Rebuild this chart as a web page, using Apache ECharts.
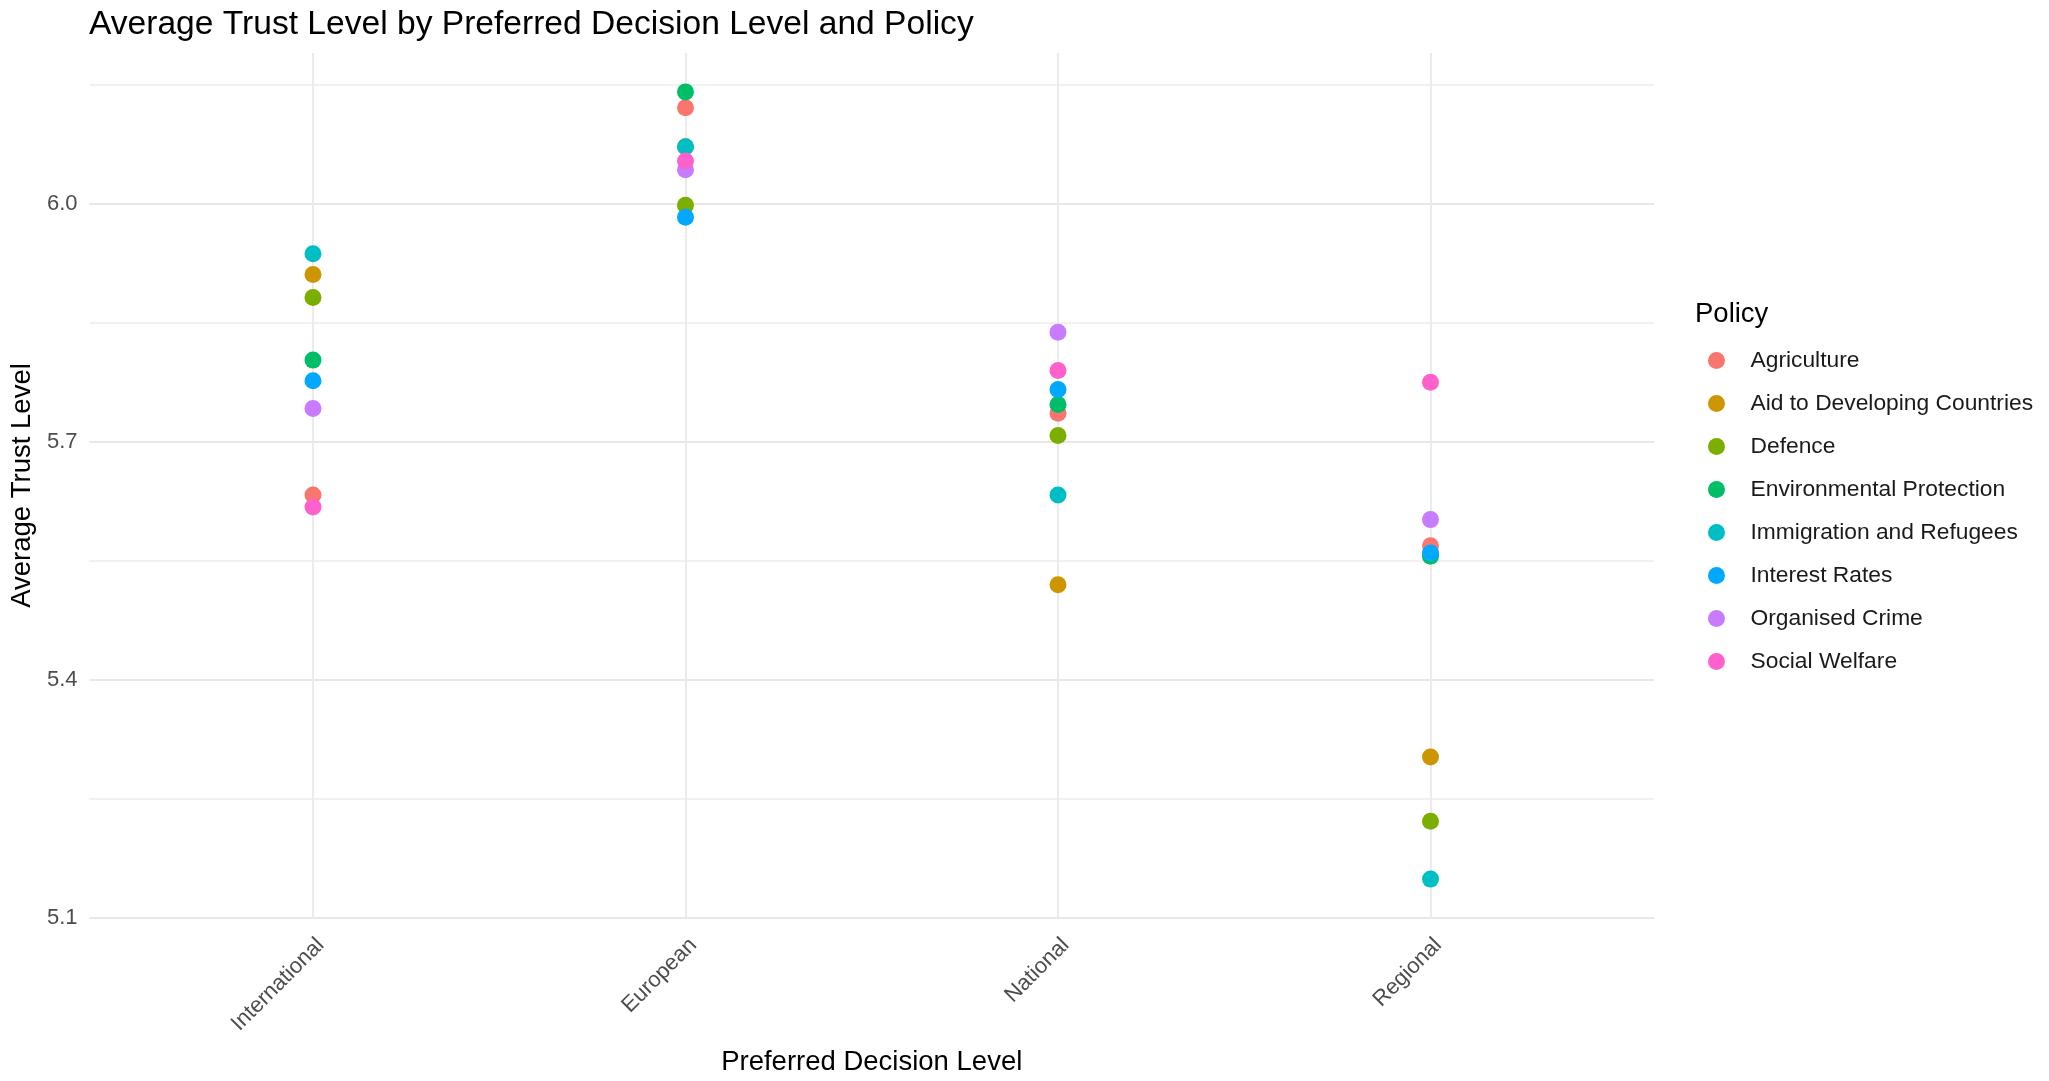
<!DOCTYPE html>
<html>
<head>
<meta charset="utf-8">
<script src="https://cdn.jsdelivr.net/npm/echarts@6/dist/echarts.min.js"></script>
<style>
html,body{margin:0;padding:0;background:#fff;}
#chart{width:2049px;height:1081px;}
</style>
</head>
<body>
<div id="chart"></div>
<script>
const levels = ['International', 'European', 'National', 'Regional'];
const policies = ['Agriculture', 'Aid to Developing Countries', 'Defence', 'Environmental Protection',
  'Immigration and Refugees', 'Interest Rates', 'Organised Crime', 'Social Welfare'];
const colors = ['#F8766D', '#CD9600', '#7CAE00', '#00BE67', '#00BFC4', '#00A9FF', '#C77CFF', '#FF61CC'];
// values per policy, in the order of levels
const agriculture   = [5.633, 6.121, 5.736, 5.569];
const aid           = [5.911, 6.072, 5.520, 5.303];
const defence       = [5.882, 5.998, 5.708, 5.222];
const environment   = [5.803, 6.141, 5.747, 5.556];
const immigration   = [5.937, 6.072, 5.633, 5.149];
const interestRates = [5.777, 5.983, 5.766, 5.560];
const organisedCrime= [5.742, 6.043, 5.838, 5.602];
const socialWelfare = [5.618, 6.054, 5.790, 5.775];
const yTicks = [5.1, 5.4, 5.7, 6.0];

const seriesValues = [agriculture, aid, defence, environment, immigration, interestRates, organisedCrime, socialWelfare];

const FONT = '"Liberation Sans", Arial, sans-serif';
const chart = echarts.init(document.getElementById('chart'), null, {renderer: 'canvas'});

const series = policies.map((p, i) => ({
  name: p,
  type: 'scatter',
  symbol: 'circle',
  symbolSize: 17,
  itemStyle: {color: colors[i], opacity: 1},
  data: seriesValues[i].map((v, j) => [j + 1, v])
}));

chart.setOption({
  animation: false,
  backgroundColor: '#ffffff',
  title: [{
    text: 'Average Trust Level by Preferred Decision Level and Policy',
    left: 84, top: 3,
    textStyle: {fontFamily: FONT, fontSize: 33.6, fontWeight: 'normal', color: '#000'}
  }, {
    text: 'Policy',
    left: 1690, top: 295,
    textStyle: {fontFamily: FONT, fontSize: 27.5, fontWeight: 'normal', color: '#000'}
  }],
  legend: {
    orient: 'vertical',
    left: 1703, top: 344,
    icon: 'circle',
    itemWidth: 58, itemHeight: 17,
    itemGap: 20,
    textStyle: {fontFamily: FONT, fontSize: 22.8, color: '#1a1a1a', lineHeight: 23},
    data: policies
  },
  grid: {left: 89, right: 395, top: 53, bottom: 157, containLabel: false},
  xAxis: {
    type: 'value',
    min: 0.4, max: 4.6,
    splitNumber: 4,
    name: 'Preferred Decision Level',
    nameLocation: 'middle',
    nameGap: 130,
    nameTextStyle: {fontFamily: FONT, fontSize: 27.5, color: '#000'},
    axisLine: {show: false},
    axisTick: {show: false},
    axisLabel: {
      rotate: 45,
      margin: 16,
      verticalAlign: 'top',
      fontFamily: FONT, fontSize: 22, color: '#4d4d4d',
      showMinLabel: false, showMaxLabel: false,
      formatter: v => {
        const k = Math.round(v);
        return (Math.abs(v - k) < 1e-6 && k >= 1 && k <= levels.length) ? levels[k - 1] : '';
      }
    },
    splitLine: {show: true, showMinLine: false, showMaxLine: false, lineStyle: {color: '#ebebeb', width: 2}}
  },
  yAxis: {
    type: 'value',
    min: 5.1, max: 6.19,
    interval: 0.15,
    name: 'Average Trust Level',
    nameLocation: 'middle',
    nameGap: 42,
    nameTextStyle: {fontFamily: FONT, fontSize: 27.5, color: '#000'},
    axisLine: {show: false},
    axisTick: {show: false},
    axisLabel: {
      margin: 12,
      fontFamily: FONT, fontSize: 22, color: '#4d4d4d',
      showMaxLabel: false,
      formatter: v => {
        const hit = yTicks.find(t => Math.abs(t - v) < 1e-6);
        return hit !== undefined ? hit.toFixed(1) : '';
      }
    },
    splitLine: {show: true, showMaxLine: false, lineStyle: {color: ['#e8e8e8', '#f1f1f1'], width: 2}}
  },
  series: series
});
</script>
</body>
</html>
